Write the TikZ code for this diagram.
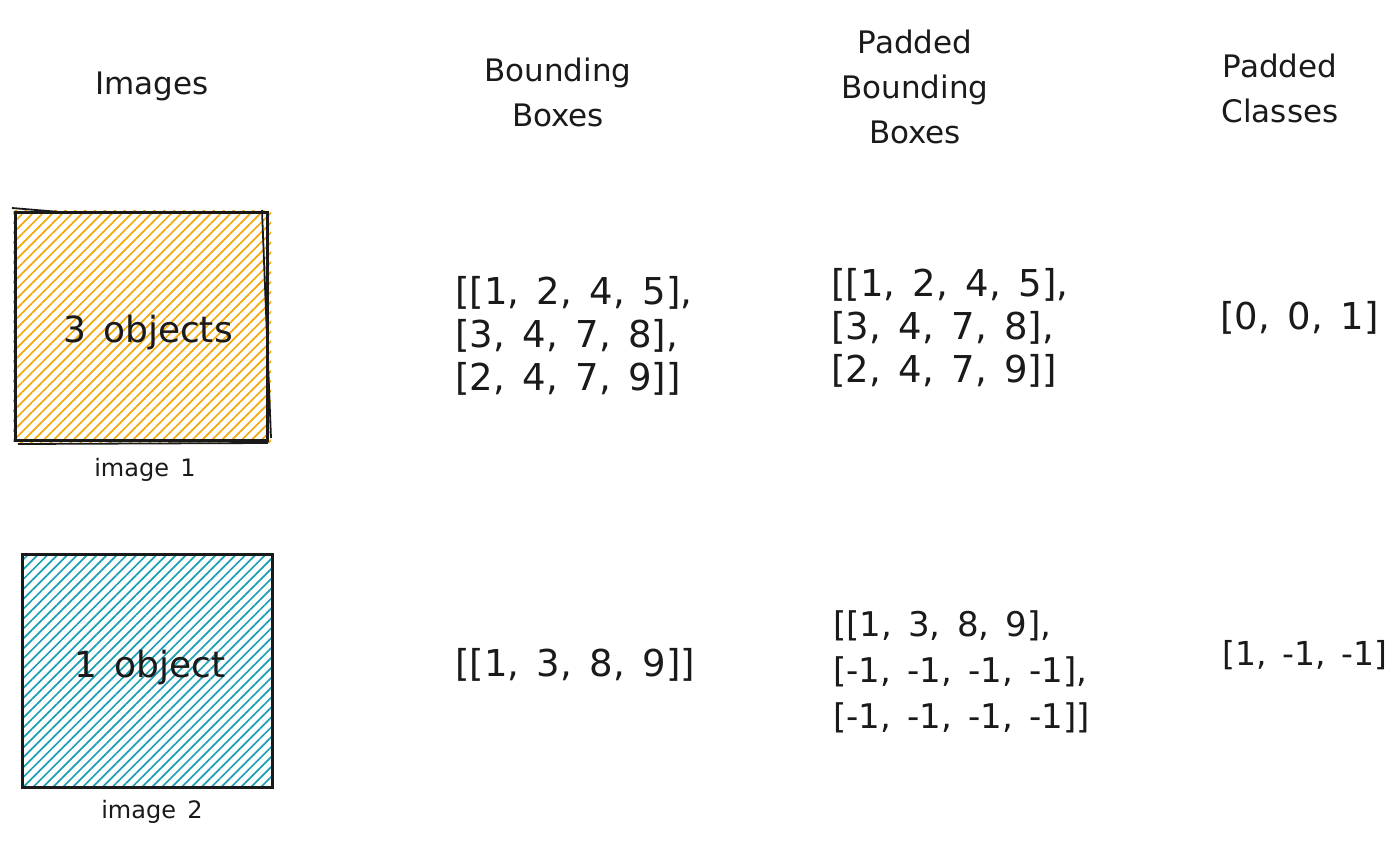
\documentclass[tikz,border=0pt]{standalone}
\usepackage{fontspec}
\setmainfont{DejaVu Sans}[WordSpace=1.5]
\usetikzlibrary{patterns.meta}
\definecolor{hatchorange}{HTML}{F5A80A}
\definecolor{hatchteal}{HTML}{1A9FB6}
\definecolor{ink}{HTML}{1A1A1A}
\tikzset{
  header/.style={align=center, font=\fontsize{31}{45}\selectfont, text=ink, inner sep=0pt},
  listtext/.style={align=left, anchor=west, font=\fontsize{37}{43}\selectfont, text=ink, inner sep=0pt},
  smalllist/.style={listtext, font=\fontsize{34}{46}\selectfont},
  classlist/.style={listtext, font=\fontsize{33}{46}\selectfont},
  boxtext/.style={font=\fontsize{36}{38}\selectfont, text=ink, inner sep=0pt},
  captiontext/.style={font=\fontsize{24}{26}\selectfont, text=ink, inner sep=0pt},
  imgframe/.style={draw=ink, line width=3pt},
}
\begin{document}
\begin{tikzpicture}[x=1pt,y=-1pt]
\useasboundingbox[fill=white] (0,0) rectangle (1400,850);
% headers
\node[header] (hImages) at (152,86) {Images};
\node[header] (hBB) at (558,92) {Bounding\\Boxes};
\node[header] (hPBB) at (915,87) {Padded\\Bounding\\Boxes};
\node[header] (hPC) at (1280,88) {Padded\\Classes};
% image 1
\fill[pattern={Lines[angle=45,distance=7pt,line width=1.7pt]}, pattern color=hatchorange] (13,211) rectangle (271,442);
\draw[imgframe] (15,213) rectangle (267,440);
\draw[ink, line width=1.8pt] (12,208) -- (60,212);
\draw[ink, line width=1.8pt] (262,210) -- (271,438);
\draw[ink, line width=1.8pt] (18,444) -- (268,443);
% image 2
\fill[pattern={Lines[angle=45,distance=7pt,line width=1.7pt]}, pattern color=hatchteal] (22,554) rectangle (273,788);
\draw[imgframe] (22,554) rectangle (272,787);
\node[boxtext] (img1) at (148,333) {3 objects};
\node[captiontext] (cap1) at (145,470) {image 1};
\node[boxtext] (img2) at (150,668) {1 object};
\node[captiontext] (cap2) at (152,812) {image 2};
% lists row 1
\node[listtext] (bb1) at (455,336) {[[1, 2, 4, 5],\\\relax [3, 4, 7, 8],\\\relax [2, 4, 7, 9]]};
\node[listtext] (pbb1) at (831,328) {[[1, 2, 4, 5],\\\relax [3, 4, 7, 8],\\\relax [2, 4, 7, 9]]};
\node[listtext] (pc1) at (1220,318) {[0, 0, 1]};
% lists row 2
\node[listtext] (bb2) at (455,665) {[[1, 3, 8, 9]]};
\node[smalllist] (pbb2) at (833,672) {[[1, 3, 8, 9],\\\relax [-1, -1, -1, -1],\\\relax [-1, -1, -1, -1]]};
\node[classlist] (pc2) at (1222,655) {[1, -1, -1]};
\end{tikzpicture}
\end{document}
